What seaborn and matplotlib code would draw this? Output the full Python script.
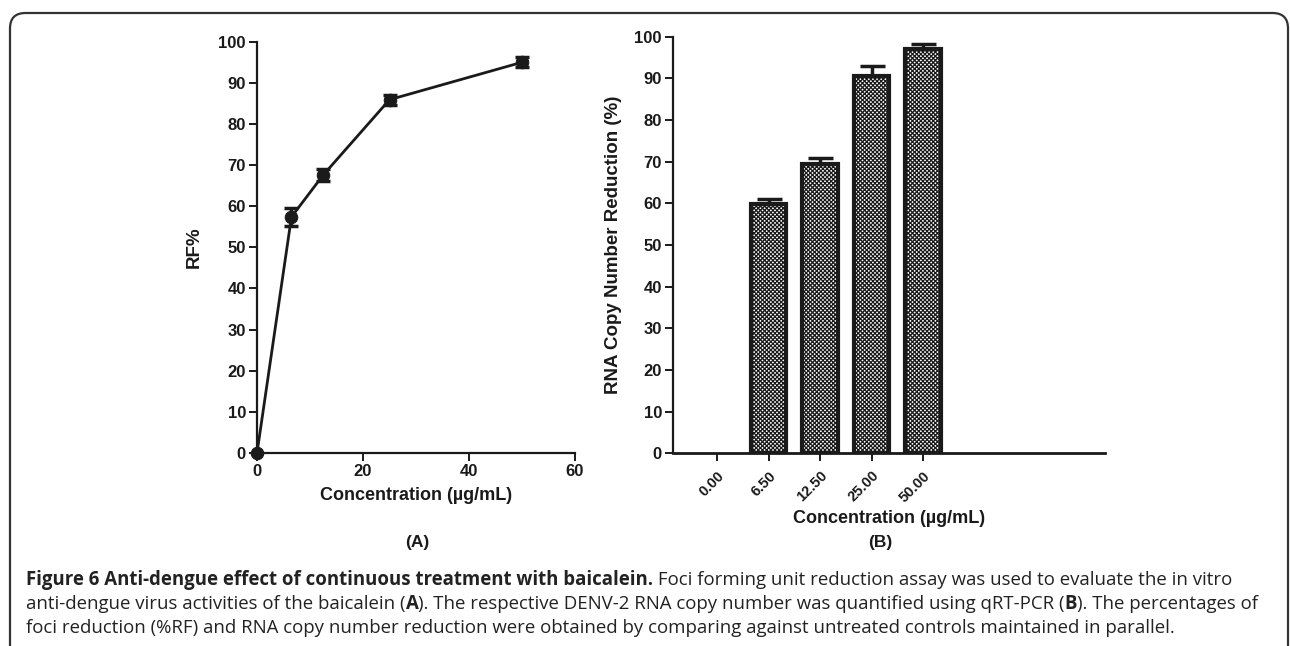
import numpy as np
import pandas as pd
import matplotlib
matplotlib.use("Agg")
import matplotlib.pyplot as plt
from matplotlib.patches import FancyBboxPatch
import seaborn as sns

# ---- data ----
conc_a = [0, 6.5, 12.5, 25, 50]
rf_pct = [0, 57.4, 67.6, 85.9, 95.0]
rf_err = [0, 2.2, 1.5, 1.2, 1.2]

conc_b = ["0.00", "6.50", "12.50", "25.00", "50.00"]
rna_red = [0, 59.8, 69.4, 90.6, 97.1]
rna_err = [0, 1.2, 1.6, 2.4, 1.1]

x_ticks_a = [0, 20, 40, 60]
y_ticks = list(range(0, 101, 10))

caption_lines = [
    [("Figure 6 Anti-dengue effect of continuous treatment with baicalein.", "bold"),
     (" Foci forming unit reduction assay was used to evaluate the in vitro", "normal")],
    [("anti-dengue virus activities of the baicalein (", "normal"), ("A", "bold"),
     ("). The respective DENV-2 RNA copy number was quantified using qRT-PCR (", "normal"),
     ("B", "bold"), ("). The percentages of", "normal")],
    [("foci reduction (%RF) and RNA copy number reduction were obtained by comparing against untreated controls maintained in parallel.", "normal")],
]

sns.set_theme(style="ticks")
plt.rcParams["font.family"] = ["Liberation Sans", "DejaVu Sans"]
plt.rcParams["hatch.linewidth"] = 0.9
plt.rcParams["hatch.color"] = "black"

W, H = 1290, 646
fig = plt.figure(figsize=(W / 100, H / 100), dpi=100)

def px_axes(l, r, b, t):
    return [l / W, (H - b) / H, (r - l) / W, (b - t) / H]

ink = "#1a1a1a"

# ---- panel A ----
axA = fig.add_axes(px_axes(257, 575, 453, 41.7))
dfA = pd.DataFrame({"conc": conc_a, "rf": rf_pct})
sns.lineplot(data=dfA, x="conc", y="rf", ax=axA, color=ink, linewidth=2,
             marker="o", markersize=9, markeredgecolor=ink, clip_on=False)
ea = [i for i, e in enumerate(rf_err) if e > 0]
axA.errorbar([conc_a[i] for i in ea], [rf_pct[i] for i in ea],
             yerr=[rf_err[i] for i in ea], fmt="none", ecolor=ink,
             elinewidth=2.5, capsize=5, capthick=2.5, clip_on=False)
axA.set_xlim(0, 60)
axA.set_ylim(0, 100)
axA.set_xticks(x_ticks_a)
axA.set_yticks(y_ticks)
axA.set_xlabel("Concentration (µg/mL)", fontsize=13, fontweight="bold", color=ink, labelpad=6)
axA.set_ylabel("RF%", fontsize=13.5, fontweight="bold", color=ink, labelpad=11)
for sp in ["top", "right"]:
    axA.spines[sp].set_visible(False)
for sp in ["left", "bottom"]:
    axA.spines[sp].set_linewidth(1.6)
    axA.spines[sp].set_color(ink)
axA.tick_params(axis="both", direction="out", length=6, width=1.4, color=ink,
                labelsize=12, labelcolor=ink, pad=2)
for lab in axA.get_xticklabels() + axA.get_yticklabels():
    lab.set_fontweight("bold")
for ln in axA.lines:
    ln.set_clip_on(False)

# ---- panel B ----
axB = fig.add_axes(px_axes(673, 1105, 453.3, 36.7))
dfB = pd.DataFrame({"conc": conc_b, "red": rna_red})
sns.barplot(data=dfB, x="conc", y="red", order=conc_b, ax=axB, color="white",
            width=0.69, edgecolor=ink, linewidth=3, errorbar=None)
for p, v in zip(axB.patches, rna_red):
    if v == 0:
        p.set_visible(False)
    else:
        p.set_hatch("xxxxxxxx")
        p.set_facecolor("white")
        p.set_edgecolor(ink)
eb = [i for i, e in enumerate(rna_err) if e > 0]
axB.errorbar(eb, [rna_red[i] for i in eb],
             yerr=[np.zeros(len(eb)), [rna_err[i] for i in eb]], fmt="none", ecolor=ink,
             elinewidth=2.5, capsize=9, capthick=2.5)
axB.set_xlim(-0.854, 7.53)
axB.set_ylim(0, 100)
axB.set_yticks(y_ticks)
axB.set_xticks(range(len(conc_b)))
axB.set_xticklabels(conc_b, rotation=45, ha="right", rotation_mode="anchor")
axB.set_xlabel("Concentration (µg/mL)", fontsize=13, fontweight="bold", color=ink, labelpad=4)
axB.set_ylabel("RNA Copy Number Reduction (%)", fontsize=13.5, fontweight="bold", color=ink, labelpad=9)
for sp in ["top", "right"]:
    axB.spines[sp].set_visible(False)
axB.spines["left"].set_linewidth(1.6)
axB.spines["bottom"].set_linewidth(2)
for sp in ["left", "bottom"]:
    axB.spines[sp].set_color(ink)
axB.tick_params(axis="both", direction="out", length=6, width=1.4, color=ink,
                labelsize=12, labelcolor=ink, pad=2)
axB.tick_params(axis="x", labelsize=10.5, pad=5)
for lab in axB.get_xticklabels() + axB.get_yticklabels():
    lab.set_fontweight("bold")

# panel letters
fig.text(417 / W, 1 - 543 / H, "(A)", ha="center", va="center", fontsize=12.5,
         fontweight="bold", color=ink)
fig.text(880 / W, 1 - 543 / H, "(B)", ha="center", va="center", fontsize=12.5,
         fontweight="bold", color=ink)

# frame
frame = FancyBboxPatch((10 / W, -20 / H), (1288 - 10) / W, (H - 13 + 20) / H,
                       boxstyle="round,pad=0,rounding_size=0.012",
                       transform=fig.transFigure, fill=False, edgecolor="#333333",
                       linewidth=1.6, clip_on=False, mutation_aspect=W / H)
fig.patches.append(frame)

# caption
fig.canvas.draw()
renderer = fig.canvas.get_renderer()
cap_y = [580, 604, 628]
for segs, yy in zip(caption_lines, cap_y):
    x = 26
    for txt, wt in segs:
        t = fig.text(x / W, 1 - yy / H, txt, ha="left", va="center", fontsize=13.4,
                     fontweight=wt, color="#222222", family=["Open Sans", "DejaVu Sans"])
        bb = t.get_window_extent(renderer=renderer)
        x += bb.width

fig.savefig("out.png", dpi=100)
